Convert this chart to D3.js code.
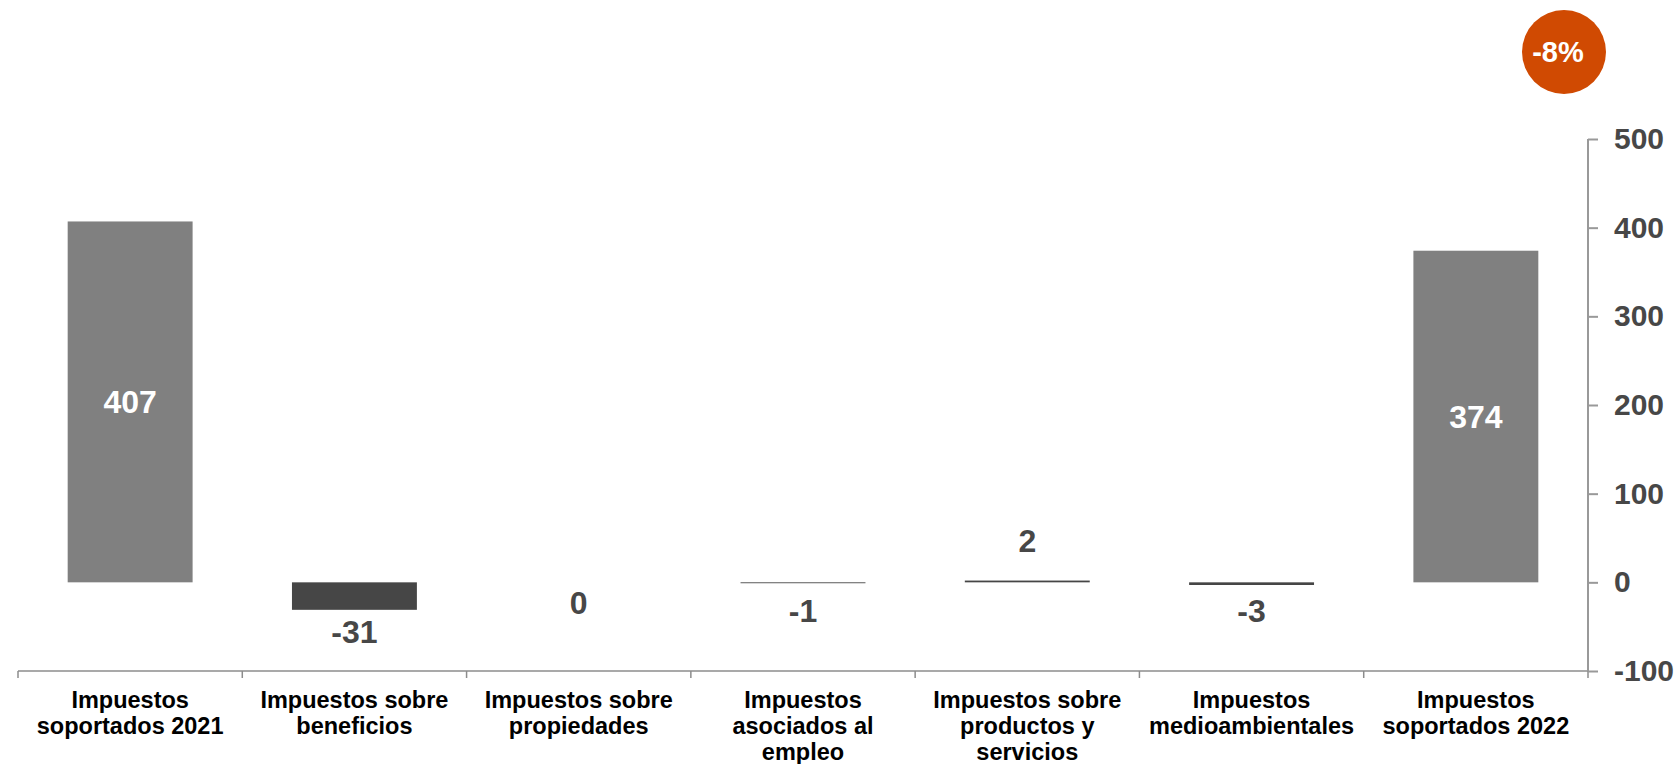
<!DOCTYPE html>
<html>
<head>
<meta charset="utf-8">
<script src="https://cdn.jsdelivr.net/npm/d3@7"></script>
<style>
  html, body { margin: 0; padding: 0; background: #fff; }
  svg { display: block; font-family: "Liberation Sans", Arial, sans-serif; font-weight: bold; }
</style>
</head>
<body>
<svg id="chart" width="1676" height="764"></svg>
<script>
// ---- data ----
const categories = [
  "Impuestos soportados 2021",
  "Impuestos sobre beneficios",
  "Impuestos sobre propiedades",
  "Impuestos asociados al empleo",
  "Impuestos sobre productos y servicios",
  "Impuestos medioambientales",
  "Impuestos soportados 2022"
];
const categoryLines = [
  ["Impuestos", "soportados 2021"],
  ["Impuestos sobre", "beneficios"],
  ["Impuestos sobre", "propiedades"],
  ["Impuestos", "asociados al", "empleo"],
  ["Impuestos sobre", "productos y", "servicios"],
  ["Impuestos", "medioambientales"],
  ["Impuestos", "soportados 2022"]
];
const values = [407, -31, 0, -1, 2, -3, 374];
const isTotal = [true, false, false, false, false, false, true];
const yTicks = [-100, 0, 100, 200, 300, 400, 500];
const changeLabel = "-8%";

// ---- layout ----
const svg = d3.select("#chart");
const plotLeft = 18, plotRight = 1588, plotTop = 139, plotBottom = 671;

const x = d3.scaleBand()
  .domain(categories)
  .range([plotLeft, plotRight])
  .paddingInner(0.443)
  .paddingOuter(0.2215);

const y = d3.scaleLinear().domain([-100, 500]).range([plotBottom, plotTop]);

// bars
svg.append("g").selectAll("rect")
  .data(values)
  .join("rect")
  .attr("x", (d, i) => x(categories[i]))
  .attr("width", x.bandwidth())
  .attr("y", d => y(Math.max(0, d)))
  .attr("height", d => Math.abs(y(d) - y(0)))
  .attr("fill", (d, i) => isTotal[i] ? "#808080" : "#464646");

// value labels
svg.append("g").selectAll("text")
  .data(values)
  .join("text")
  .attr("x", (d, i) => x(categories[i]) + x.bandwidth() / 2)
  .attr("y", (d, i) => {
    if (isTotal[i]) return (y(d) + y(0)) / 2;
    if (d > 0) return y(d) - 29;
    if (d === 0) return y(0) + 32;
    return Math.max(y(d) + 33, y(0) + 40);
  })
  .attr("dy", (d, i) => isTotal[i] ? "0.35em" : 0)
  .attr("text-anchor", "middle")
  .attr("font-size", 32)
  .attr("fill", (d, i) => isTotal[i] ? "#ffffff" : "#474747")
  .text(d => String(d));

// x axis (category boundaries)
const step = x.step();
const bounds = d3.range(categories.length + 1).map(i => plotLeft + i * step);
const xAxis = svg.append("g");
xAxis.append("line")
  .attr("x1", plotLeft).attr("x2", plotRight)
  .attr("y1", plotBottom).attr("y2", plotBottom)
  .attr("stroke", "#8c8c8c").attr("stroke-width", 1.5);
xAxis.selectAll("line.tick")
  .data(bounds)
  .join("line")
  .attr("class", "tick")
  .attr("x1", d => d).attr("x2", d => d)
  .attr("y1", plotBottom).attr("y2", plotBottom + 7)
  .attr("stroke", "#8c8c8c").attr("stroke-width", 1.5);

// category labels
const catG = svg.append("g");
categoryLines.forEach((lines, i) => {
  const cx = x(categories[i]) + x.bandwidth() / 2;
  const t = catG.append("text")
    .attr("x", cx)
    .attr("y", 708)
    .attr("text-anchor", "middle")
    .attr("font-size", 23.5)
    .attr("fill", "#000");
  lines.forEach((ln, j) => {
    t.append("tspan")
      .attr("x", cx)
      .attr("y", 708 + j * 26)
      .text(ln);
  });
});

// y axis on the right
const yAxis = svg.append("g")
  .attr("transform", `translate(${plotRight},0)`)
  .call(d3.axisRight(y).tickValues(yTicks).tickSize(10).tickPadding(16).tickFormat(d => String(d)));
yAxis.select(".domain").attr("stroke", "#999").attr("stroke-width", 2)
  .attr("d", `M0,${y(500)}V${y(-100)}`);
yAxis.selectAll(".tick line").attr("stroke", "#999").attr("stroke-width", 2);
yAxis.selectAll(".tick text")
  .attr("font-size", 30)
  .attr("font-family", "'Liberation Sans', Arial, sans-serif")
  .attr("font-weight", "bold")
  .attr("fill", "#474747");

// change badge
svg.append("circle")
  .attr("cx", 1564).attr("cy", 52).attr("r", 42)
  .attr("fill", "#D04A02");
svg.append("text")
  .attr("x", 1558).attr("y", 52)
  .attr("dy", "0.35em")
  .attr("text-anchor", "middle")
  .attr("font-size", 29)
  .attr("fill", "#fff")
  .text(changeLabel);
</script>
</body>
</html>
